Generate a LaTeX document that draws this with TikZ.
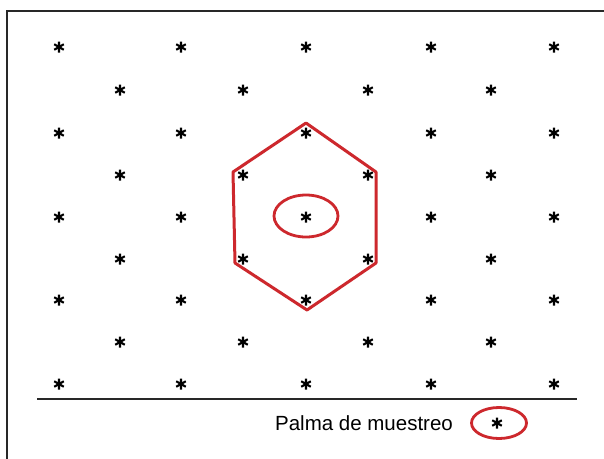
\documentclass[tikz,border=0pt]{standalone}
\usepackage{fontspec}
\setmainfont{Liberation Sans}
\usetikzlibrary{shapes.geometric}
\definecolor{hexred}{RGB}{205,40,45}
\definecolor{framegray}{RGB}{40,40,40}
\tikzset{
  asterisk/.style={draw=none,inner sep=0pt,minimum size=12pt,
    path picture={
      \draw[line width=2.1pt,black]
        ([yshift=5.5pt]path picture bounding box.center) -- ([yshift=-5.5pt]path picture bounding box.center)
        ([shift={(4.8pt,2.75pt)}]path picture bounding box.center) -- ([shift={(-4.8pt,-2.75pt)}]path picture bounding box.center)
        ([shift={(-4.8pt,2.75pt)}]path picture bounding box.center) -- ([shift={(4.8pt,-2.75pt)}]path picture bounding box.center);
    }},
  redline/.style={draw=hexred,line width=3pt,line join=round},
  redoval/.style={draw=hexred,line width=2.8pt,ellipse,inner sep=0pt},
  baseline/.style={draw=framegray,line width=1.8pt},
  framel/.style={draw=framegray,line width=2pt},
  legendtext/.style={font=\fontsize{20.5}{24}\selectfont,inner sep=0pt}
}
\begin{document}
\begin{tikzpicture}[x=1pt,y=-1pt]
\useasboundingbox (0,0) rectangle (604,458);
\fill[white] (0,0) rectangle (604,458);
% frame
\coordinate (fbl) at (6.5,460);
\coordinate (ftl) at (6.5,11);
\coordinate (ftr) at (606,11);
\draw[framel] (fbl) -- (ftl) -- (ftr);
% asterisk grid
\foreach \r/\y in {0/47,2/133,4/217,6/300,8/384}{
  \foreach \c/\x in {0/59,1/181,2/306,3/431,4/554}{
    \node[asterisk] (a\r\c) at (\x,\y) {};
  }
}
\foreach \r/\y in {1/90,3/175,5/259,7/342}{
  \foreach \c/\x in {0/120,1/243,2/368,3/491}{
    \node[asterisk] (a\r\c) at (\x,\y) {};
  }
}
% hexagon
\coordinate (h1) at (306,123);
\coordinate (h2) at (376,172);
\coordinate (h3) at (376,263);
\coordinate (h4) at (307,310);
\coordinate (h5) at (235,263);
\coordinate (h6) at (233,172);
\draw[redline] (h1) -- (h2) -- (h3) -- (h4) -- (h5) -- (h6) -- cycle;
% central oval
\node[redoval,minimum width=64pt,minimum height=42pt] (oval) at (306,216) {};
% base line
\coordinate (bl) at (37,399);
\coordinate (br) at (577,399);
\draw[baseline] (bl) -- (br);
% legend
\node[legendtext] (leg) at (364,423) {Palma de muestreo};
\node[asterisk] (legast) at (497,423) {};
\node[redoval,minimum width=55pt,minimum height=31pt] (legoval) at (499,423) {};
\end{tikzpicture}
\end{document}
